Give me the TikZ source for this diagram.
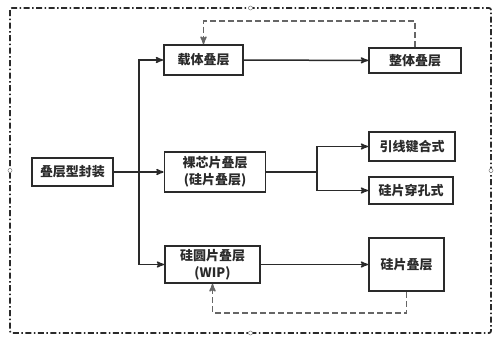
\documentclass[tikz,border=0pt]{standalone}
\usepackage{fontspec}
\setmainfont{Noto Sans CJK SC}
\usepackage{tikz}
\usetikzlibrary{shapes,arrows,positioning,calc}
\definecolor{linegray}{HTML}{2A2A2A}
\definecolor{backgray}{HTML}{666666}
\tikzstyle{layer} = [rectangle, draw=linegray, line width=1.8pt, text=linegray, font=\bfseries\fontsize{13pt}{17pt}\selectfont, align=center, inner sep=0pt]
\tikzstyle{arrow} = [line width=1.5pt, draw=linegray, ->, >=stealth']
\tikzstyle{wire} = [line width=1.5pt, draw=linegray]
\tikzstyle{back} = [line width=1.6pt, draw=backgray, dash pattern=on 6pt off 3pt, ->, >=stealth']
\tikzstyle{frame} = [line width=1.7pt, draw=linegray, dash pattern=on 6pt off 2.5pt on 1.5pt off 2.5pt, rounded corners=2pt]
\tikzstyle{handle} = [circle, draw=gray, fill=white, line width=0.5pt, inner sep=0pt, minimum size=4pt]

\begin{document}
\begin{tikzpicture}[x=1pt, y=-1pt]
        \useasboundingbox (0,0) rectangle (499,340);
        \draw [frame] (10,8) rectangle (491,333);
        \node (htop) [handle] at (250.5,8) {};
        \node (hleft) [handle] at (10,170.5) {};
        \node (hright) [handle] at (491,170.5) {};
        \node (hbottom) [handle] at (250.5,333) {};

        \node (stack) [layer, minimum width=81pt, minimum height=28pt] at (72.5,172) {叠层型封装};
        \node (carrier) [layer, minimum width=79pt, minimum height=30pt] at (203.5,60) {载体叠层};
        \node (whole) [layer, minimum width=92pt, minimum height=25pt] at (415,60.5) {整体叠层};
        \node (die) [layer, minimum width=101pt, minimum height=40pt] at (215,172) {裸芯片叠层\\(硅片叠层)};
        \node (bond) [layer, minimum width=86pt, minimum height=29pt] at (412,146.5) {引线键合式};
        \node (tsv) [layer, minimum width=84pt, minimum height=27pt] at (411,190.5) {硅片穿孔式};
        \node (wip) [layer, minimum width=95pt, minimum height=37pt] at (212.5,264.5) {硅圆片叠层\\(WIP)};
        \node (wafer) [layer, minimum width=75pt, minimum height=53pt] at (406.5,264.5) {硅片叠层};

        \coordinate (split) at (139,172);
        \coordinate (fork) at (317,172);

        \draw [wire] (stack) -- (split);
        \draw [arrow] (split) |- (carrier.west);
        \draw [arrow] (split) -- (die.west);
        \draw [arrow] (split) |- (wip.west);
        \draw [arrow] (carrier) -- (whole);
        \draw [wire] (die) -- (fork);
        \draw [arrow] (fork) |- (bond.west);
        \draw [arrow] (fork) |- (tsv.west);
        \draw [arrow] (wip) -- (wafer);
        \draw [back] (whole.north) -- ++(0,-26) -| (carrier.north);
        \draw [back] (wafer.south) -- ++(0,21) -| (wip.south);
    \end{tikzpicture}
\end{document}
